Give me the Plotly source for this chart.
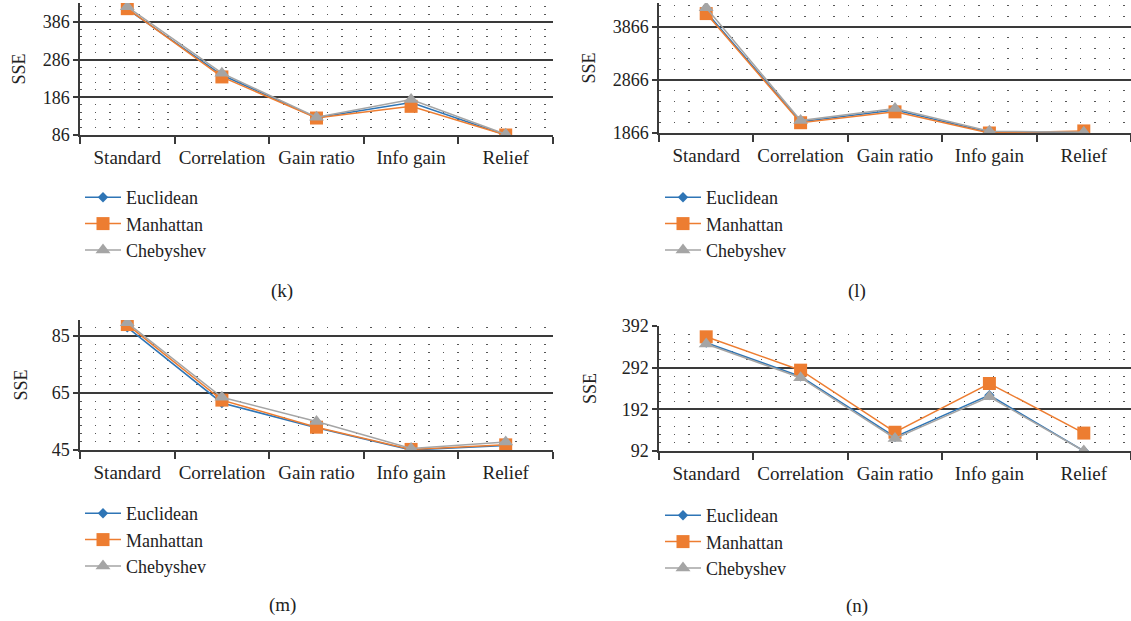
import plotly.graph_objects as go

categories = ["Standard", "Correlation", "Gain ratio", "Info gain", "Relief"]
series_names = ["Euclidean", "Manhattan", "Chebyshev"]

# panel (k)
k_euclidean = [420, 245, 132, 172, 86]
k_manhattan = [421, 240, 131, 162, 86]
k_chebyshev = [426, 250, 133, 180, 88]
k_ticks = [86, 186, 286, 386]

# panel (l)
l_euclidean = [4150, 2080, 2300, 1880, 1866]
l_manhattan = [4120, 2060, 2265, 1866, 1905]
l_chebyshev = [4230, 2100, 2330, 1900, 1880]
l_ticks = [1866, 2866, 3866]

# panel (m)
m_euclidean = [88.0, 61.5, 52.8, 45.0, 46.6]
m_manhattan = [89.0, 62.5, 53.0, 45.2, 46.8]
m_chebyshev = [89.6, 63.5, 55.0, 45.5, 47.8]
m_ticks = [45, 65, 85]

# panel (n)
n_euclidean = [352, 271, 126, 226, 92]
n_manhattan = [366, 286, 137, 254, 135]
n_chebyshev = [349, 268, 122, 222, 92]
n_ticks = [92, 192, 292, 392]

W, H = 1131, 621
COLORS = ["#2E75B6", "#ED7D31", "#A5A5A5"]
SYMBOLS = ["diamond", "square", "triangle-up"]
SIZES = [8, 13, 13]
FONT = "Liberation Serif"
DARK = "#3a3a3a"

panels = [
    dict(vals=[k_euclidean, k_manhattan, k_chebyshev], ticks=k_ticks, rng=[86, 436],
         minor=20, x=(80, 553), y=(3, 135), leg=(80, 179), label="(k)", lab=(282, 291), so=12),
    dict(vals=[l_euclidean, l_manhattan, l_chebyshev], ticks=l_ticks, rng=[1866, 4320],
         minor=200, x=(659, 1131), y=(3, 133), leg=(660, 179), label="(l)", lab=(857, 291), so=12),
    dict(vals=[m_euclidean, m_manhattan, m_chebyshev], ticks=m_ticks, rng=[45, 90.6],
         minor=20 / 7, x=(80, 553), y=(320, 450), leg=(80, 495), label="(m)", lab=(282, 605), so=19),
    dict(vals=[n_euclidean, n_manhattan, n_chebyshev], ticks=n_ticks, rng=[92, 392],
         minor=20, x=(659, 1131), y=(326, 451), leg=(660, 497), label="(n)", lab=(857, 606), so=20),
]

fig = go.Figure()
layout = dict(
    width=W, height=H, margin=dict(l=0, r=0, t=0, b=0, autoexpand=False),
    paper_bgcolor="white", plot_bgcolor="white",
    font=dict(family=FONT, size=17, color="#222"),
    annotations=[],
)

for i, p in enumerate(panels):
    n = "" if i == 0 else str(i + 1)
    legname = "legend" + n
    for s in range(3):
        fig.add_trace(go.Scatter(
            x=categories, y=p["vals"][s], name=series_names[s], mode="lines+markers",
            line=dict(color=COLORS[s], width=1.5),
            marker=dict(symbol=SYMBOLS[s], size=SIZES[s], color=COLORS[s]),
            xaxis="x" + n, yaxis="y" + n, legend=legname,
        ))
    x0, x1 = p["x"]
    ytop, ybot = p["y"]
    layout["xaxis" + n] = dict(
        domain=[x0 / W, x1 / W], anchor="y" + n, type="category",
        range=[-0.5, 4.5], tickson="boundaries", ticks="outside", ticklen=7,
        tickcolor=DARK, tickwidth=1.5, showline=True, linecolor=DARK, linewidth=1.5,
        showgrid=False, tickfont=dict(family=FONT, size=19, color="#222"),
        tickangle=0, ticklabelstandoff=4, automargin=False, fixedrange=True,
    )
    layout["yaxis" + n] = dict(
        domain=[1 - ybot / H, 1 - ytop / H], anchor="x" + n, range=p["rng"],
        tickvals=p["ticks"], ticks="outside", ticklen=5, tickcolor=DARK, tickwidth=1.5,
        showline=True, linecolor=DARK, linewidth=1.5,
        showgrid=True, gridcolor=DARK, gridwidth=1.5, zeroline=False,
        tickfont=dict(family=FONT, size=18, color="#222"),
        title=dict(text="SSE", font=dict(family=FONT, size=18, color="#222"), standoff=p["so"]),
        minor=dict(dtick=p["minor"], tick0=p["ticks"][0], showgrid=True,
                   gridcolor="#555", gridwidth=1.2, griddash="1.5px,13px", ticks=""),
        automargin=False, fixedrange=True,
    )
    lx, ly = p["leg"]
    layout[legname] = dict(
        x=lx / W, y=1 - ly / H, xanchor="left", yanchor="top",
        font=dict(family=FONT, size=18, color="#222"), bgcolor="rgba(0,0,0,0)",
        itemwidth=36, tracegroupgap=0,
    )
    layout["annotations"].append(dict(
        text=p["label"], x=p["lab"][0] / W, y=1 - p["lab"][1] / H, xref="paper", yref="paper",
        showarrow=False, font=dict(family=FONT, size=19, color="#222"),
        xanchor="center", yanchor="middle",
    ))

fig.update_layout(**layout)
fig.write_html("out.html", config={"displayModeBar": False},
               post_script="document.body.style.margin='0';document.body.style.overflow='hidden';")
